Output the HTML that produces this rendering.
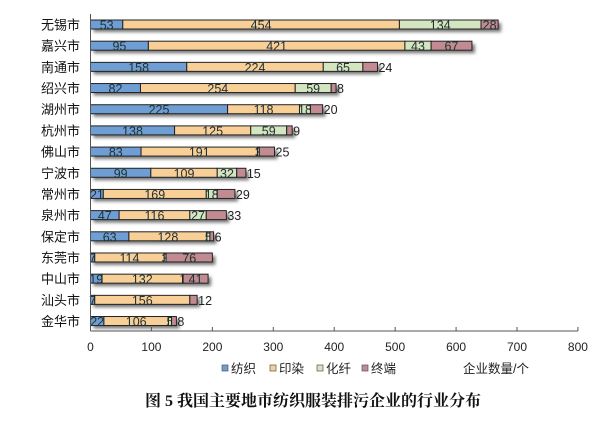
<!DOCTYPE html>
<html><head><meta charset="utf-8"><style>
body{margin:0;background:#fff;}
svg text{font-family:"Liberation Sans","Noto Sans CJK SC",sans-serif;}
</style></head><body>
<svg id="s" width="606" height="416" xmlns="http://www.w3.org/2000/svg">
<defs><filter id="sh" x="-10%" y="-50%" width="130%" height="250%"><feGaussianBlur stdDeviation="1.5"/></filter></defs>
</svg>
<script>
var s=document.getElementById('s');
var x0=90.5,k=0.6093,y0=24.5,dy=21.18,bh=9;
var cols=['#6e9ed4','#f9cf98','#d4e6bf','#c28a91'];
var data=[["无锡市",53,454,134,28,1],["嘉兴市",95,421,43,67,1],["南通市",158,224,65,24,0],["绍兴市",82,254,59,8,0],["湖州市",225,118,18,20,0],["杭州市",138,125,59,9,0],["佛山市",83,191,3,25,0],["宁波市",99,109,32,15,0],["常州市",21,169,18,29,0],["泉州市",47,116,27,33,0],["保定市",63,128,5,6,0],["东莞市",7,114,3,76,1],["中山市",19,132,1,41,1],["汕头市",7,156,0,12,0],["金华市",22,106,5,8,0]];
var h='';
data.forEach(function(d,i){
 var cy=y0+i*dy,tot=d[1]+d[2]+d[3]+d[4];
 h+='<rect x="'+(x0+3)+'" y="'+(cy-bh/2+3)+'" width="'+(tot*k)+'" height="'+bh+'" fill="#777" filter="url(#sh)"/>';
 var x=x0;
 for(var j=0;j<4;j++){var w=d[j+1]*k;
  h+='<rect x="'+x+'" y="'+(cy-bh/2)+'" width="'+w+'" height="'+bh+'" fill="'+cols[j]+'" stroke="#222" stroke-width="1"/>';
  if(j<3||d[5]){ if(d[j+1]>0) h+='<text x="'+(x+w/2)+'" y="'+(cy+5)+'" font-size="12.5" text-anchor="middle" fill="#233">'+d[j+1]+'</text>';}
  else h+='<text x="'+(x+w+1)+'" y="'+(cy+5)+'" font-size="12.5" fill="#222">'+d[j+1]+'</text>';
  x+=w;}
 h+='<text x="80" y="'+(cy+5)+'" font-size="13" text-anchor="end" fill="#111">'+d[0]+'</text>';
});
h+='<line x1="'+x0+'" y1="14" x2="'+x0+'" y2="331" stroke="#555"/>';
h+='<line x1="'+x0+'" y1="331" x2="'+(x0+800*k)+'" y2="331" stroke="#555"/>';
for(var t=0;t<=800;t+=100){var tx=x0+t*k;h+='<line x1="'+tx+'" y1="327" x2="'+tx+'" y2="331" stroke="#555"/><text x="'+tx+'" y="351" font-size="12" text-anchor="middle" fill="#222">'+t+'</text>';}
var lg=[[222,'纺织'],[270,'印染'],[317,'化纤'],[362,'终端']];
lg.forEach(function(l,j){h+='<rect x="'+l[0]+'" y="365" width="6" height="6" fill="'+cols[j]+'" stroke="#555" stroke-width="0.7"/><text x="'+(l[0]+9)+'" y="373" font-size="12.5" fill="#222">'+l[1]+'</text>';});
h+='<text x="463" y="373" font-size="12.5" fill="#222">企业数量/个</text>';
h+='<text x="313" y="406" font-size="16" font-weight="bold" text-anchor="middle" fill="#111" style="font-family:\'Liberation Serif\',\'Noto Serif CJK SC\',serif">图 5 我国主要地市纺织服装排污企业的行业分布</text>';
s.insertAdjacentHTML('beforeend',h);
</script>
</body></html>
